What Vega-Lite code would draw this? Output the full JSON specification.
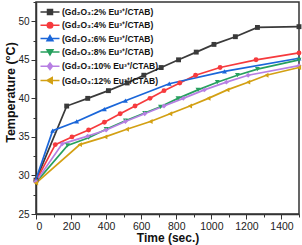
{
  "$schema": "https://vega.github.io/schema/vega-lite/v6.json",
  "width": 263,
  "height": 212,
  "autosize": "none",
  "padding": {"left": 36, "top": 2, "right": 3, "bottom": 31},
  "config": {
    "view": {"stroke": "#333333", "strokeWidth": 1.5},
    "font": "Liberation Sans",
    "point": {"filled": true, "size": 24, "opacity": 1}
  },
  "data": {"values": [
    {"s": "(Gd₂O₃:2% Eu³⁺/CTAB)", "t": 0, "T": 29.4},
    {"s": "(Gd₂O₃:2% Eu³⁺/CTAB)", "t": 175, "T": 39.0},
    {"s": "(Gd₂O₃:2% Eu³⁺/CTAB)", "t": 295, "T": 40.0},
    {"s": "(Gd₂O₃:2% Eu³⁺/CTAB)", "t": 413, "T": 41.0},
    {"s": "(Gd₂O₃:2% Eu³⁺/CTAB)", "t": 520, "T": 42.0},
    {"s": "(Gd₂O₃:2% Eu³⁺/CTAB)", "t": 615, "T": 43.0},
    {"s": "(Gd₂O₃:2% Eu³⁺/CTAB)", "t": 714, "T": 44.0},
    {"s": "(Gd₂O₃:2% Eu³⁺/CTAB)", "t": 813, "T": 45.0},
    {"s": "(Gd₂O₃:2% Eu³⁺/CTAB)", "t": 914, "T": 46.0},
    {"s": "(Gd₂O₃:2% Eu³⁺/CTAB)", "t": 1015, "T": 47.0},
    {"s": "(Gd₂O₃:2% Eu³⁺/CTAB)", "t": 1137, "T": 48.0},
    {"s": "(Gd₂O₃:2% Eu³⁺/CTAB)", "t": 1263, "T": 49.2},
    {"s": "(Gd₂O₃:2% Eu³⁺/CTAB)", "t": 1500, "T": 49.3},
    {"s": "(Gd₂O₃:4% Eu³⁺/CTAB)", "t": 0, "T": 29.3},
    {"s": "(Gd₂O₃:4% Eu³⁺/CTAB)", "t": 110, "T": 34.0},
    {"s": "(Gd₂O₃:4% Eu³⁺/CTAB)", "t": 205, "T": 35.0},
    {"s": "(Gd₂O₃:4% Eu³⁺/CTAB)", "t": 300, "T": 35.9},
    {"s": "(Gd₂O₃:4% Eu³⁺/CTAB)", "t": 390, "T": 36.9},
    {"s": "(Gd₂O₃:4% Eu³⁺/CTAB)", "t": 480, "T": 38.0},
    {"s": "(Gd₂O₃:4% Eu³⁺/CTAB)", "t": 565, "T": 39.0},
    {"s": "(Gd₂O₃:4% Eu³⁺/CTAB)", "t": 650, "T": 40.0},
    {"s": "(Gd₂O₃:4% Eu³⁺/CTAB)", "t": 730, "T": 41.0},
    {"s": "(Gd₂O₃:4% Eu³⁺/CTAB)", "t": 820, "T": 42.0},
    {"s": "(Gd₂O₃:4% Eu³⁺/CTAB)", "t": 910, "T": 43.0},
    {"s": "(Gd₂O₃:4% Eu³⁺/CTAB)", "t": 1050, "T": 44.0},
    {"s": "(Gd₂O₃:4% Eu³⁺/CTAB)", "t": 1255, "T": 45.0},
    {"s": "(Gd₂O₃:4% Eu³⁺/CTAB)", "t": 1500, "T": 45.9},
    {"s": "(Gd₂O₃:6% Eu³⁺/CTAB)", "t": 0, "T": 29.5},
    {"s": "(Gd₂O₃:6% Eu³⁺/CTAB)", "t": 95, "T": 35.8},
    {"s": "(Gd₂O₃:6% Eu³⁺/CTAB)", "t": 232, "T": 37.0},
    {"s": "(Gd₂O₃:6% Eu³⁺/CTAB)", "t": 390, "T": 38.6},
    {"s": "(Gd₂O₃:6% Eu³⁺/CTAB)", "t": 510, "T": 39.7},
    {"s": "(Gd₂O₃:6% Eu³⁺/CTAB)", "t": 760, "T": 41.9},
    {"s": "(Gd₂O₃:6% Eu³⁺/CTAB)", "t": 1075, "T": 43.5},
    {"s": "(Gd₂O₃:6% Eu³⁺/CTAB)", "t": 1500, "T": 45.2},
    {"s": "(Gd₂O₃:8% Eu³⁺/CTAB)", "t": 0, "T": 29.1},
    {"s": "(Gd₂O₃:8% Eu³⁺/CTAB)", "t": 180, "T": 33.9},
    {"s": "(Gd₂O₃:8% Eu³⁺/CTAB)", "t": 300, "T": 34.9},
    {"s": "(Gd₂O₃:8% Eu³⁺/CTAB)", "t": 400, "T": 36.0},
    {"s": "(Gd₂O₃:8% Eu³⁺/CTAB)", "t": 510, "T": 37.1},
    {"s": "(Gd₂O₃:8% Eu³⁺/CTAB)", "t": 620, "T": 38.1},
    {"s": "(Gd₂O₃:8% Eu³⁺/CTAB)", "t": 710, "T": 38.9},
    {"s": "(Gd₂O₃:8% Eu³⁺/CTAB)", "t": 810, "T": 40.0},
    {"s": "(Gd₂O₃:8% Eu³⁺/CTAB)", "t": 924, "T": 41.1},
    {"s": "(Gd₂O₃:8% Eu³⁺/CTAB)", "t": 1034, "T": 42.1},
    {"s": "(Gd₂O₃:8% Eu³⁺/CTAB)", "t": 1149, "T": 43.0},
    {"s": "(Gd₂O₃:8% Eu³⁺/CTAB)", "t": 1263, "T": 43.8},
    {"s": "(Gd₂O₃:8% Eu³⁺/CTAB)", "t": 1500, "T": 45.0},
    {"s": "(Gd₂O₃:10% Eu³⁺/CTAB)", "t": 0, "T": 29.2},
    {"s": "(Gd₂O₃:10% Eu³⁺/CTAB)", "t": 150, "T": 34.1},
    {"s": "(Gd₂O₃:10% Eu³⁺/CTAB)", "t": 295, "T": 35.1},
    {"s": "(Gd₂O₃:10% Eu³⁺/CTAB)", "t": 400, "T": 35.9},
    {"s": "(Gd₂O₃:10% Eu³⁺/CTAB)", "t": 510, "T": 37.0},
    {"s": "(Gd₂O₃:10% Eu³⁺/CTAB)", "t": 620, "T": 38.0},
    {"s": "(Gd₂O₃:10% Eu³⁺/CTAB)", "t": 730, "T": 39.0},
    {"s": "(Gd₂O₃:10% Eu³⁺/CTAB)", "t": 840, "T": 40.0},
    {"s": "(Gd₂O₃:10% Eu³⁺/CTAB)", "t": 960, "T": 41.1},
    {"s": "(Gd₂O₃:10% Eu³⁺/CTAB)", "t": 1086, "T": 42.1},
    {"s": "(Gd₂O₃:10% Eu³⁺/CTAB)", "t": 1210, "T": 43.0},
    {"s": "(Gd₂O₃:10% Eu³⁺/CTAB)", "t": 1500, "T": 44.25},
    {"s": "(Gd₂O₃:12% Eu³⁺/CTAB)", "t": 0, "T": 29.0},
    {"s": "(Gd₂O₃:12% Eu³⁺/CTAB)", "t": 250, "T": 34.0},
    {"s": "(Gd₂O₃:12% Eu³⁺/CTAB)", "t": 395, "T": 35.0},
    {"s": "(Gd₂O₃:12% Eu³⁺/CTAB)", "t": 518, "T": 36.0},
    {"s": "(Gd₂O₃:12% Eu³⁺/CTAB)", "t": 653, "T": 37.0},
    {"s": "(Gd₂O₃:12% Eu³⁺/CTAB)", "t": 765, "T": 38.0},
    {"s": "(Gd₂O₃:12% Eu³⁺/CTAB)", "t": 878, "T": 39.0},
    {"s": "(Gd₂O₃:12% Eu³⁺/CTAB)", "t": 983, "T": 40.0},
    {"s": "(Gd₂O₃:12% Eu³⁺/CTAB)", "t": 1091, "T": 41.1},
    {"s": "(Gd₂O₃:12% Eu³⁺/CTAB)", "t": 1210, "T": 42.1},
    {"s": "(Gd₂O₃:12% Eu³⁺/CTAB)", "t": 1314, "T": 43.0},
    {"s": "(Gd₂O₃:12% Eu³⁺/CTAB)", "t": 1500, "T": 44.0}
  ]},
  "layer": [
    {
      "mark": {"type": "line", "strokeWidth": 1.7},
      "encoding": {
        "x": {"field": "t", "type": "quantitative",
          "scale": {"domain": [0, 1500], "nice": false},
          "axis": {"orient": "bottom", "values": [0, 200, 400, 600, 800, 1000, 1200, 1400], "format": "d", "title": "Time (sec.)",
            "grid": false, "tickSize": 5, "tickColor": "#333333", "domainColor": "#333333", "domainWidth": 1.5,
            "labelFontSize": 10.5, "labelColor": "#222222", "labelPadding": 2,
            "titleFontSize": 12, "titleFontWeight": "bold", "titleColor": "#111111", "titlePadding": 1}},
        "y": {"field": "T", "type": "quantitative",
          "scale": {"domain": [25, 52.5], "nice": false, "zero": false},
          "axis": {"orient": "left", "values": [25, 30, 35, 40, 45, 50], "title": "Temperature (°C)",
            "grid": false, "tickSize": 5, "tickColor": "#333333", "domainColor": "#333333", "domainWidth": 1.5,
            "labelFontSize": 10, "labelColor": "#222222", "labelPadding": 2,
            "titleFontSize": 12.5, "titleFontWeight": "bold", "titleColor": "#111111", "titleX": -19, "titleY": 90}},
        "color": {"field": "s", "type": "nominal",
          "scale": {"domain": ["(Gd₂O₃:2% Eu³⁺/CTAB)", "(Gd₂O₃:4% Eu³⁺/CTAB)", "(Gd₂O₃:6% Eu³⁺/CTAB)", "(Gd₂O₃:8% Eu³⁺/CTAB)", "(Gd₂O₃:10% Eu³⁺/CTAB)", "(Gd₂O₃:12% Eu³⁺/CTAB)"],
            "range": ["#3a3a3a", "#f63a3d", "#1a66d9", "#27a05e", "#b77fe3", "#d3a013"]},
          "legend": {"orient": "none", "legendX": 8, "legendY": 4, "title": null, "padding": 0,
            "symbolSize": 100, "labelFontSize": 8.5, "labelFontWeight": "bold", "labelColor": "#111111",
            "labelOffset": 6, "rowPadding": 1.3,
            "encode": {"symbols": {"update": {
              "shape": {"signal": "['M-1.9,0H1.9M-0.5,-0.5H0.5V0.5H-0.5Z','M-1.9,0H1.9M-0.55,0A0.55,0.55 0 1 0 0.55,0A0.55,0.55 0 1 0 -0.55,0Z','M-1.9,0H1.9M0,-0.6L0.6,0.45H-0.6Z','M-1.9,0H1.9M0,0.6L0.6,-0.45H-0.6Z','M-1.9,0H1.9M0,-0.65L0.5,0L0,0.65L-0.5,0Z','M-1.9,0H1.9M-0.6,0L0.45,-0.6V0.6Z'][indexof(domain('color'), datum.value)]"},
              "fill": {"signal": "scale('color', datum.value)"},
              "stroke": {"signal": "scale('color', datum.value)"},
              "strokeWidth": {"value": 1.5},
              "opacity": {"value": 1}
            }}}}
        }
      }
    },
    {
      "transform": [{"filter": {"field": "s", "equal": "(Gd₂O₃:2% Eu³⁺/CTAB)"}}],
      "mark": {"type": "point", "shape": "square", "color": "#3a3a3a"},
      "encoding": {
        "x": {"field": "t", "type": "quantitative",
          "axis": {"orient": "bottom", "values": [100, 300, 500, 700, 900, 1100, 1300, 1500], "labels": false, "title": null,
            "grid": false, "domain": false, "tickSize": 3, "tickColor": "#333333"}},
        "y": {"field": "T", "type": "quantitative",
          "axis": {"orient": "left", "values": [27.5, 32.5, 37.5, 42.5, 47.5, 52.5], "labels": false, "title": null,
            "grid": false, "domain": false, "tickSize": 3, "tickColor": "#333333"}}
      }
    },
    {
      "transform": [{"filter": {"field": "s", "equal": "(Gd₂O₃:4% Eu³⁺/CTAB)"}}],
      "mark": {"type": "point", "shape": "circle", "color": "#f63a3d"},
      "encoding": {"x": {"field": "t", "type": "quantitative", "axis": null}, "y": {"field": "T", "type": "quantitative", "axis": null}}
    },
    {
      "transform": [{"filter": {"field": "s", "equal": "(Gd₂O₃:6% Eu³⁺/CTAB)"}}],
      "mark": {"type": "point", "shape": "triangle-up", "color": "#1a66d9"},
      "encoding": {"x": {"field": "t", "type": "quantitative", "axis": null}, "y": {"field": "T", "type": "quantitative", "axis": null}}
    },
    {
      "transform": [{"filter": {"field": "s", "equal": "(Gd₂O₃:8% Eu³⁺/CTAB)"}}],
      "mark": {"type": "point", "shape": "triangle-down", "color": "#27a05e"},
      "encoding": {"x": {"field": "t", "type": "quantitative", "axis": null}, "y": {"field": "T", "type": "quantitative", "axis": null}}
    },
    {
      "transform": [{"filter": {"field": "s", "equal": "(Gd₂O₃:10% Eu³⁺/CTAB)"}}],
      "mark": {"type": "point", "shape": "diamond", "color": "#b77fe3"},
      "encoding": {"x": {"field": "t", "type": "quantitative", "axis": null}, "y": {"field": "T", "type": "quantitative", "axis": null}}
    },
    {
      "transform": [{"filter": {"field": "s", "equal": "(Gd₂O₃:12% Eu³⁺/CTAB)"}}],
      "mark": {"type": "point", "shape": "triangle-left", "color": "#d3a013"},
      "encoding": {"x": {"field": "t", "type": "quantitative", "axis": null}, "y": {"field": "T", "type": "quantitative", "axis": null}}
    }
  ],
  "resolve": {"axis": {"x": "independent", "y": "independent"}}
}
